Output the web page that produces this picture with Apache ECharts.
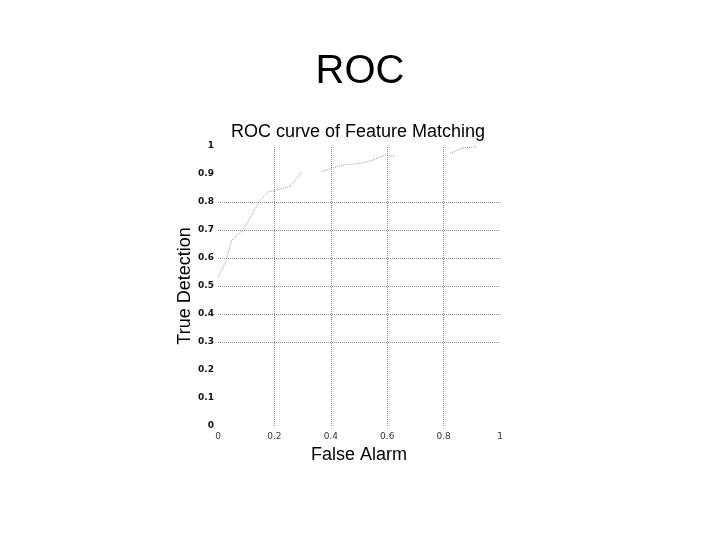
<!DOCTYPE html>
<html>
<head>
<meta charset="utf-8">
<script src="https://cdn.jsdelivr.net/npm/echarts@6/dist/echarts.min.js"></script>
<style>html,body{margin:0;padding:0;background:#fff;}#c{width:720px;height:540px;}</style>
</head>
<body>
<div id="c"></div>
<script>
// Data (null = break in the drawn curve)
const falseAlarm    = [0.000, 0.025, 0.049, 0.089, 0.150, 0.178, 0.209, 0.255, 0.298, null, 0.368, 0.403, 0.443, 0.504, 0.550, 0.592, 0.628, null, 0.823, 0.869, 0.917];
const trueDetection = [0.532, 0.582, 0.664, 0.700, 0.807, 0.836, 0.843, 0.855, 0.908, null, 0.908, 0.921, 0.932, 0.938, 0.950, 0.968, 0.962, null, 0.974, 0.993, 0.998];
const gridX = [0.2, 0.4, 0.6, 0.8];
const gridY = [0.3, 0.4, 0.5, 0.6, 0.7, 0.8];
const slideTitle = 'ROC';
const chartTitle = 'ROC curve of Feature Matching';
const xName = 'False Alarm';
const yName = 'True Detection';

const curve = falseAlarm.map((x, i) => (x === null ? ['-', '-'] : [x, trueDetection[i]]));
const gridLineStyle = { color: '#888', type: 'dotted', width: 1 };

const chart = echarts.init(document.getElementById('c'), null, { renderer: 'canvas' });
chart.setOption({
  backgroundColor: '#fff',
  animation: false,
  title: [
    { text: slideTitle, left: 'center', top: 47, textStyle: { fontFamily: 'Liberation Sans, Arial', fontSize: 40, fontWeight: 'normal', color: '#000' } },
    { text: chartTitle, left: 353, textAlign: 'center', top: 118, textStyle: { fontFamily: 'Liberation Sans, Arial', fontSize: 18, fontWeight: 'normal', color: '#000' } }
  ],
  grid: { left: 218, right: 220, top: 146, bottom: 114 },
  xAxis: {
    type: 'value', min: 0, max: 1, interval: 0.2,
    name: xName, nameLocation: 'middle', nameGap: 19,
    nameTextStyle: { fontFamily: 'Liberation Sans, Arial', fontSize: 18, color: '#000' },
    axisLine: { show: false }, axisTick: { show: false }, splitLine: { show: false },
    axisLabel: { margin: 6, fontFamily: 'DejaVu Sans', fontSize: 9, color: '#333' }
  },
  yAxis: {
    type: 'value', min: 0, max: 1, interval: 0.1,
    name: yName, nameLocation: 'middle', nameGap: 24,
    nameTextStyle: { fontFamily: 'Liberation Sans, Arial', fontSize: 18, color: '#000' },
    axisLine: { show: false }, axisTick: { show: false }, splitLine: { show: false },
    axisLabel: { margin: 4, fontFamily: 'DejaVu Sans', fontSize: 9, fontWeight: 'bold', color: '#111' }
  },
  series: [
    {
      type: 'line', data: curve, symbol: 'none', connectNulls: false,
      lineStyle: { color: '#999', width: 1, type: 'dotted' },
      markLine: {
        silent: true, symbol: 'none', label: { show: false },
        lineStyle: gridLineStyle,
        data: gridX.map(v => ({ xAxis: v })).concat(gridY.map(v => ({ yAxis: v })))
      }
    }
  ]
});
</script>
</body>
</html>
